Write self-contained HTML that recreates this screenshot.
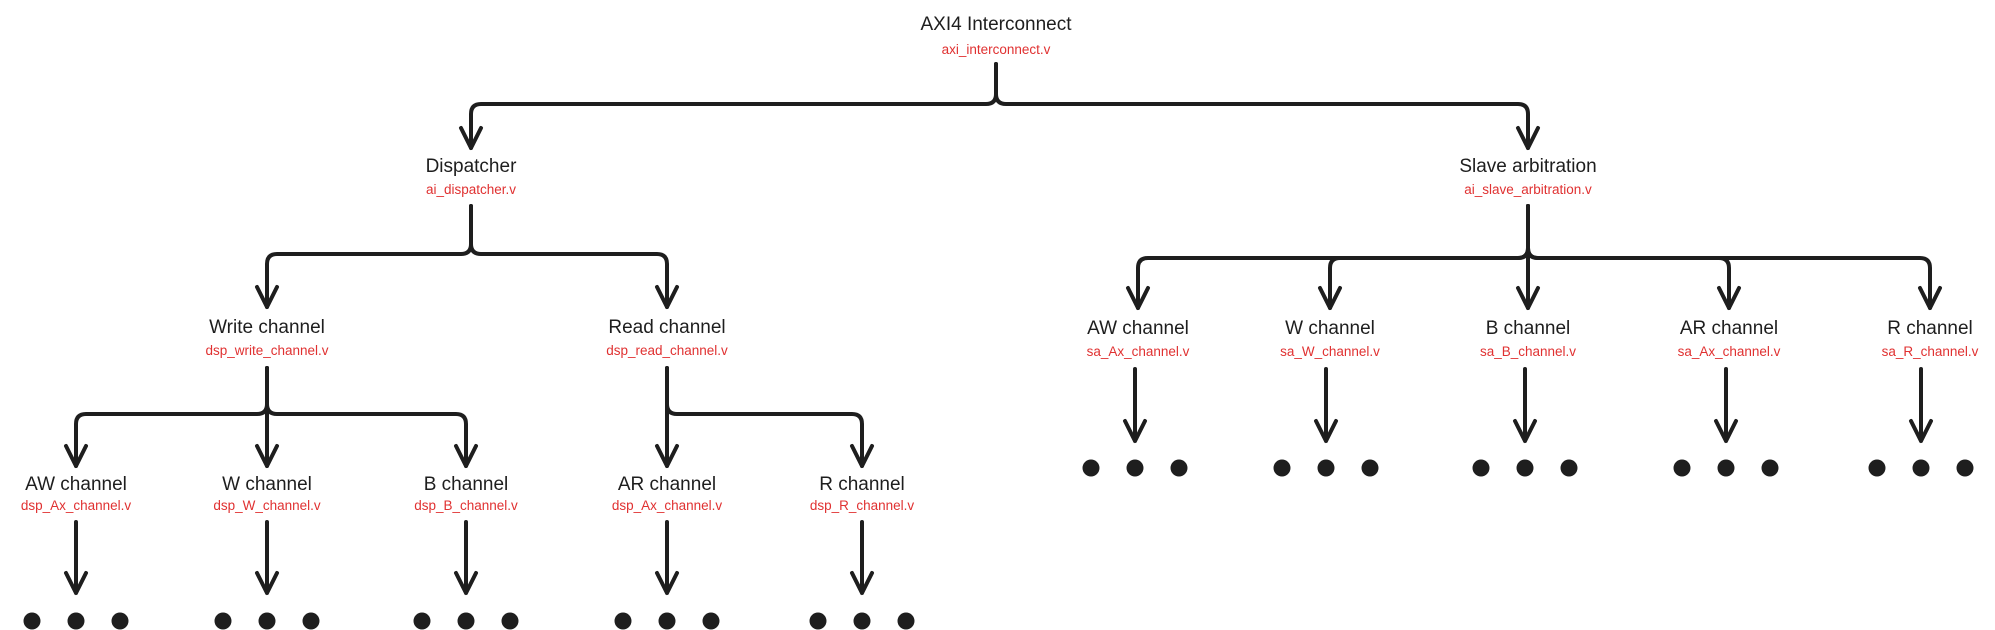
<!DOCTYPE html>
<html><head><meta charset="utf-8"><style>
html,body{margin:0;padding:0;background:#fff;}
svg{display:block;}
.t{font-family:"Liberation Sans",sans-serif;font-size:19px;fill:#1e1e1e;text-anchor:middle;}
.r{font-family:"Liberation Sans",sans-serif;font-size:13.5px;fill:#e03131;text-anchor:middle;}
path,line{stroke:#1e1e1e;stroke-width:4;fill:none;stroke-linecap:round;stroke-linejoin:round;}
circle{fill:#1e1e1e;}
</style></head><body>
<svg width="1995" height="630" viewBox="0 0 1995 630" xmlns="http://www.w3.org/2000/svg">
<defs>
<marker id="a" markerWidth="12" markerHeight="12" refX="10" refY="6" orient="auto" markerUnits="userSpaceOnUse" viewBox="0 0 12 12" overflow="visible">
</marker>
</defs>
<g id="texts">
<text class="t" x="996" y="30">AXI4 Interconnect</text>
<text class="r" x="996" y="54">axi_interconnect.v</text>

<text class="t" x="471" y="172">Dispatcher</text>
<text class="r" x="471" y="194">ai_dispatcher.v</text>
<text class="t" x="1528" y="172">Slave arbitration</text>
<text class="r" x="1528" y="194">ai_slave_arbitration.v</text>

<text class="t" x="267" y="333">Write channel</text>
<text class="r" x="267" y="355">dsp_write_channel.v</text>
<text class="t" x="667" y="333">Read channel</text>
<text class="r" x="667" y="355">dsp_read_channel.v</text>

<text class="t" x="76" y="490">AW channel</text>
<text class="r" x="76" y="510">dsp_Ax_channel.v</text>
<text class="t" x="267" y="490">W channel</text>
<text class="r" x="267" y="510">dsp_W_channel.v</text>
<text class="t" x="466" y="490">B channel</text>
<text class="r" x="466" y="510">dsp_B_channel.v</text>
<text class="t" x="667" y="490">AR channel</text>
<text class="r" x="667" y="510">dsp_Ax_channel.v</text>
<text class="t" x="862" y="490">R channel</text>
<text class="r" x="862" y="510">dsp_R_channel.v</text>

<text class="t" x="1138" y="334">AW channel</text>
<text class="r" x="1138" y="356">sa_Ax_channel.v</text>
<text class="t" x="1330" y="334">W channel</text>
<text class="r" x="1330" y="356">sa_W_channel.v</text>
<text class="t" x="1528" y="334">B channel</text>
<text class="r" x="1528" y="356">sa_B_channel.v</text>
<text class="t" x="1729" y="334">AR channel</text>
<text class="r" x="1729" y="356">sa_Ax_channel.v</text>
<text class="t" x="1930" y="334">R channel</text>
<text class="r" x="1930" y="356">sa_R_channel.v</text>
</g>

<!-- root connectors -->
<path d="M996 64 V94 Q996 104 986 104 H481 Q471 104 471 114 V148"/>
<path d="M996 64 V94 Q996 104 1006 104 H1518 Q1528 104 1528 114 V148"/>
<path d="M461 128 L471 148 L481 128"/>
<path d="M1518 128 L1528 148 L1538 128"/>

<!-- dispatcher -->
<path d="M471 206 V244 Q471 254 461 254 H277 Q267 254 267 264 V307"/>
<path d="M471 206 V244 Q471 254 481 254 H657 Q667 254 667 264 V307"/>
<path d="M257 287 L267 307 L277 287"/>
<path d="M657 287 L667 307 L677 287"/>

<!-- write channel -->
<path d="M267 368 V404 Q267 414 257 414 H86 Q76 414 76 424 V466"/>
<path d="M267 368 V466"/>
<path d="M267 368 V404 Q267 414 277 414 H456 Q466 414 466 424 V466"/>
<path d="M66 446 L76 466 L86 446"/>
<path d="M257 446 L267 466 L277 446"/>
<path d="M456 446 L466 466 L476 446"/>

<!-- read channel -->
<path d="M667 368 V466"/>
<path d="M667 368 V404 Q667 414 677 414 H852 Q862 414 862 424 V466"/>
<path d="M657 446 L667 466 L677 446"/>
<path d="M852 446 L862 466 L872 446"/>

<!-- slave arbitration -->
<path d="M1528 206 V248 Q1528 258 1518 258 H1148 Q1138 258 1138 268 V308"/>
<path d="M1528 206 V248 Q1528 258 1518 258 H1340 Q1330 258 1330 268 V308"/>
<path d="M1528 206 V308"/>
<path d="M1528 206 V248 Q1528 258 1538 258 H1719 Q1729 258 1729 268 V308"/>
<path d="M1528 206 V248 Q1528 258 1538 258 H1920 Q1930 258 1930 268 V308"/>
<path d="M1128 288 L1138 308 L1148 288"/>
<path d="M1320 288 L1330 308 L1340 288"/>
<path d="M1518 288 L1528 308 L1538 288"/>
<path d="M1719 288 L1729 308 L1739 288"/>
<path d="M1920 288 L1930 308 L1940 288"/>

<!-- leaf arrows left -->
<g>
<path d="M76 522 V593 M66 573 L76 593 L86 573"/>
<path d="M267 522 V593 M257 573 L267 593 L277 573"/>
<path d="M466 522 V593 M456 573 L466 593 L476 573"/>
<path d="M667 522 V593 M657 573 L667 593 L677 573"/>
<path d="M862 522 V593 M852 573 L862 593 L872 573"/>
</g>
<!-- leaf arrows right -->
<g>
<path d="M1135 369 V441 M1125 421 L1135 441 L1145 421"/>
<path d="M1326 369 V441 M1316 421 L1326 441 L1336 421"/>
<path d="M1525 369 V441 M1515 421 L1525 441 L1535 421"/>
<path d="M1726 369 V441 M1716 421 L1726 441 L1736 421"/>
<path d="M1921 369 V441 M1911 421 L1921 441 L1931 421"/>
</g>

<!-- dots left -->
<g>
<circle cx="32" cy="621" r="8.5"/><circle cx="76" cy="621" r="8.5"/><circle cx="120" cy="621" r="8.5"/>
<circle cx="223" cy="621" r="8.5"/><circle cx="267" cy="621" r="8.5"/><circle cx="311" cy="621" r="8.5"/>
<circle cx="422" cy="621" r="8.5"/><circle cx="466" cy="621" r="8.5"/><circle cx="510" cy="621" r="8.5"/>
<circle cx="623" cy="621" r="8.5"/><circle cx="667" cy="621" r="8.5"/><circle cx="711" cy="621" r="8.5"/>
<circle cx="818" cy="621" r="8.5"/><circle cx="862" cy="621" r="8.5"/><circle cx="906" cy="621" r="8.5"/>
</g>
<!-- dots right -->
<g>
<circle cx="1091" cy="468" r="8.5"/><circle cx="1135" cy="468" r="8.5"/><circle cx="1179" cy="468" r="8.5"/>
<circle cx="1282" cy="468" r="8.5"/><circle cx="1326" cy="468" r="8.5"/><circle cx="1370" cy="468" r="8.5"/>
<circle cx="1481" cy="468" r="8.5"/><circle cx="1525" cy="468" r="8.5"/><circle cx="1569" cy="468" r="8.5"/>
<circle cx="1682" cy="468" r="8.5"/><circle cx="1726" cy="468" r="8.5"/><circle cx="1770" cy="468" r="8.5"/>
<circle cx="1877" cy="468" r="8.5"/><circle cx="1921" cy="468" r="8.5"/><circle cx="1965" cy="468" r="8.5"/>
</g>
</svg>
</body></html>
